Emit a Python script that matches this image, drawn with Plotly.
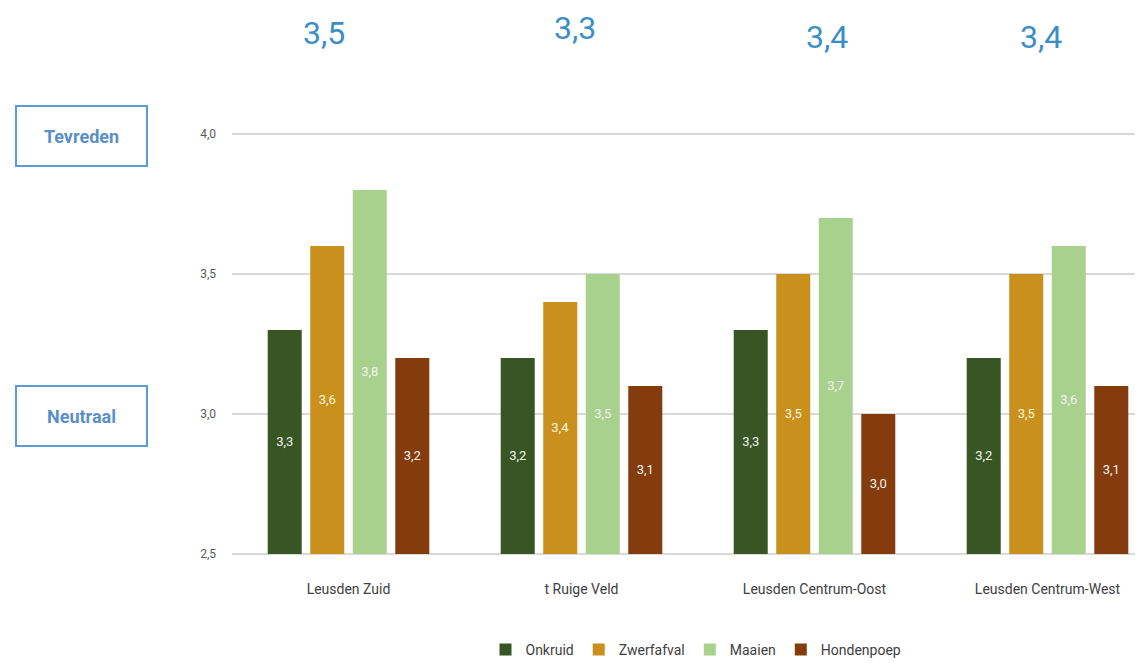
import plotly.graph_objects as go

categories = ["Leusden Zuid", "t Ruige Veld", "Leusden Centrum-Oost", "Leusden Centrum-West"]
series_names = ["Onkruid", "Zwerfafval", "Maaien", "Hondenpoep"]
onkruid = [3.3, 3.2, 3.3, 3.2]
zwerfafval = [3.6, 3.4, 3.5, 3.5]
maaien = [3.8, 3.5, 3.7, 3.6]
hondenpoep = [3.2, 3.1, 3.0, 3.1]
averages = ["3,5", "3,3", "3,4", "3,4"]
y_ticks = [2.5, 3.0, 3.5, 4.0]
y_ticklabels = ["2,5", "3,0", "3,5", "4,0"]
side_labels = ["Tevreden", "Neutraal"]
side_label_values = [4.0, 3.0]

colors = ["#375623", "#C9901E", "#A9D18E", "#843C0C"]
label_colors = ["#F2F2F2", "#FFF5DC", "#F2F2F2", "#F2F2F2"]
values = [onkruid, zwerfafval, maaien, hondenpoep]

FONT = "Liberation Sans Narrow, Roboto, Arial, sans-serif"

# page body has an 8px margin -> figure is 8px smaller so it fits the window
OFF = 8
W, H = 1143 - OFF, 663 - OFF
PLOT_LEFT, PLOT_TOP, PLOT_BOTTOM = 232, 133, 555   # screen px
PH = PLOT_BOTTOM - PLOT_TOP

fig = go.Figure()
for name, vals, col, lc in zip(series_names, values, colors, label_colors):
    fig.add_trace(go.Bar(
        x=list(range(len(categories))), y=[v - 2.5 for v in vals], base=2.5,
        name=name, marker_color=col, marker_line_width=0,
        text=[f"{v:.1f}".replace(".", ",") for v in vals],
        textposition="inside", insidetextanchor="middle",
        textfont=dict(color=lc, size=13, family=FONT),
        hoverinfo="skip",
    ))

# top averages
avg_y = [33, 28, 37, 37]
avg_dx = [-25, -7, 12, -7]
for i, (a, yy, dx) in enumerate(zip(averages, avg_y, avg_dx)):
    fig.add_annotation(x=i, xref="x", y=(PLOT_BOTTOM - yy) / PH, yref="paper",
                       text=a, showarrow=False, xshift=dx,
                       font=dict(size=32, color="#3A8FC7", family=FONT),
                       yanchor="middle")

# side boxes
for lab, v in zip(side_labels, side_label_values):
    fig.add_annotation(x=0, xref="paper", y=v, yref="y", xshift=15 - PLOT_LEFT, yshift=-2,
                       text=f"<b>{lab}</b>", showarrow=False, xanchor="left",
                       width=127, height=56, align="center", valign="middle",
                       bordercolor="#5B9BD5", borderwidth=2, bgcolor="white",
                       font=dict(size=18, color="#5B8FC7", family=FONT))

fig.update_layout(
    width=W, height=H,
    margin=dict(l=PLOT_LEFT - OFF, r=0, t=PLOT_TOP - OFF, b=H - (PLOT_BOTTOM - OFF), autoexpand=False),
    plot_bgcolor="white", paper_bgcolor="white",
    barmode="group", bargap=0.27, bargroupgap=0.2,
    separators=",.",
    showlegend=True,
    legend=dict(orientation="h", x=(696 - OFF) / W, xanchor="center", xref="container",
                yref="container", y=1 - (650 - OFF) / H, yanchor="middle",
                font=dict(size=14, color="#404040", family=FONT),
                itemwidth=30, traceorder="normal"),
    xaxis=dict(range=[-0.5, -0.5 + (1143 - PLOT_LEFT) / 233], tickmode="array",
               tickvals=list(range(len(categories))),
               ticktext=categories, showgrid=False, zeroline=False, showline=False,
               tickfont=dict(size=14, color="#404040", family=FONT), ticks="", ticklabelstandoff=24),
    yaxis=dict(range=[2.496, 4.004], tickmode="array", tickvals=y_ticks, ticktext=y_ticklabels,
               showgrid=True, gridcolor="#D9D9D9", gridwidth=1.5, zeroline=False, showline=False,
               tickfont=dict(size=12, color="#595959", family=FONT), ticks="", ticklabelstandoff=15),
)

fig.write_html("out.html")
